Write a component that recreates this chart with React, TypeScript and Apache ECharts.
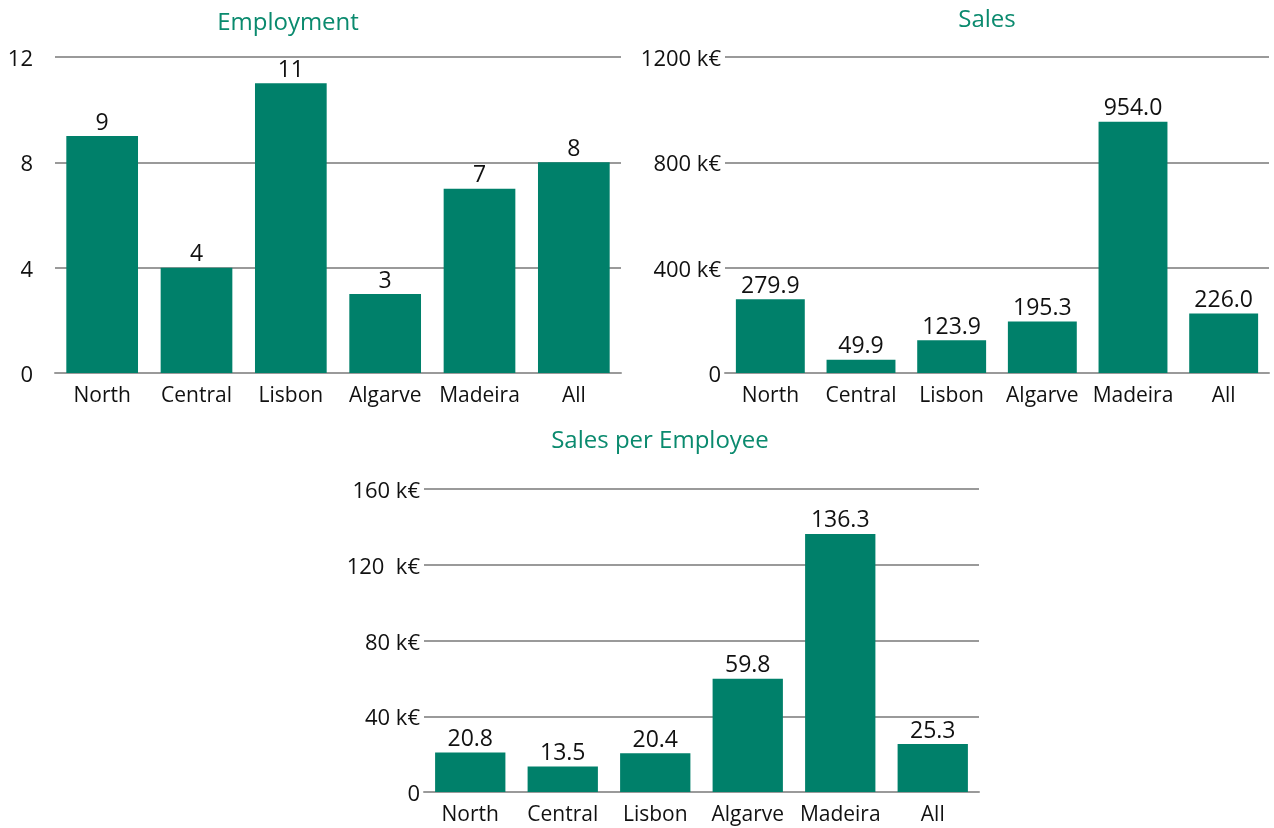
import React, { useEffect, useRef } from "react";
import * as echarts from "echarts";

const categories = ["North", "Central", "Lisbon", "Algarve", "Madeira", "All"];
const employment = [9, 4, 11, 3, 7, 8];
const sales = [279.9, 49.9, 123.9, 195.3, 954.0, 226.0];
const salesPerEmployee = [20.8, 13.5, 20.4, 59.8, 136.3, 25.3];
const employmentTicks = { min: 0, max: 12, interval: 4 };
const salesTicks = { min: 0, max: 1200, interval: 400 };
const speTicks = { min: 0, max: 160, interval: 40 };
const titles = ["Employment", "Sales", "Sales per Employee"];

const GREEN = "#00806A";
const TITLE = "#0A8A6E";
const GRID_C = "#9a9a9a";
const FONT = "'Open Sans', sans-serif";

export default function App() {
  const ref = useRef<HTMLDivElement>(null);
  useEffect(() => {
    if (!ref.current) return;
    const chart = echarts.init(ref.current, null, { renderer: "svg" });
    const grids = [
      { left: 55, top: 57, width: 566, height: 316 },
      { left: 725, top: 57, width: 544, height: 316 },
      { left: 424, top: 489, width: 555, height: 303 },
    ];
    const yFmt = [
      (v: number) => `${v}`,
      (v: number) => (v === 0 ? "0" : `${v} k€`),
      (v: number) => (v === 0 ? "0" : v === 120 ? `${v}  k€` : `${v} k€`),
    ];
    const ticks = [employmentTicks, salesTicks, speTicks];
    const data = [employment, sales, salesPerEmployee];
    const labFmt = [
      (p: any) => `${p.value}`,
      (p: any) => Number(p.value).toFixed(1),
      (p: any) => Number(p.value).toFixed(1),
    ];
    const yMargins = [22, 4, 4];
    const titlePos = [
      [288, 20],
      [987, 17],
      [660, 438],
    ];
    chart.setOption({
      animation: false,
      textStyle: { fontFamily: FONT },
      grid: grids.map((g) => ({ ...g, containLabel: false })),
      graphic: titles.map((t, i) => ({
        type: "text",
        x: titlePos[i][0],
        y: titlePos[i][1],
        style: { text: t, fill: TITLE, font: `24px ${FONT}`, textAlign: "center", textVerticalAlign: "middle" },
      })),
      xAxis: [0, 1, 2].map((i) => ({
        type: "category",
        gridIndex: i,
        data: categories,
        axisLine: { show: true, lineStyle: { color: GRID_C, width: 2 } },
        axisTick: { show: false },
        axisLabel: { color: "#111", fontSize: 21, margin: 10, fontFamily: FONT, interval: 0 },
      })),
      yAxis: [0, 1, 2].map((i) => ({
        type: "value",
        gridIndex: i,
        min: ticks[i].min,
        max: ticks[i].max,
        interval: ticks[i].interval,
        axisLine: { show: false },
        axisTick: { show: false },
        splitLine: { show: true, lineStyle: { color: GRID_C, width: 2 } },
        axisLabel: { color: "#111", fontSize: 22, margin: yMargins[i], fontFamily: FONT, formatter: yFmt[i] },
      })),
      series: [0, 1, 2].map((i) => ({
        type: "bar",
        xAxisIndex: i,
        yAxisIndex: i,
        data: data[i],
        barCategoryGap: "24%",
        itemStyle: { color: GREEN },
        label: { show: true, position: "top", distance: 4, color: "#111", fontSize: 23, fontFamily: FONT, formatter: labFmt[i] },
      })),
    });
    return () => chart.dispose();
  }, []);
  return <div ref={ref} style={{ position: "fixed", left: 0, top: 0, width: 1274, height: 828 }} />;
}
